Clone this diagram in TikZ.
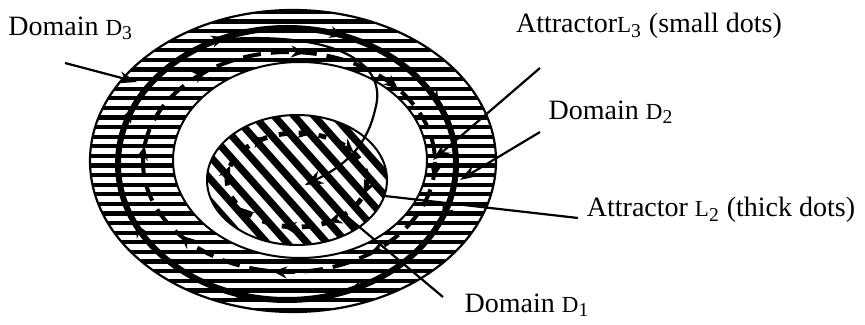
\documentclass[tikz,border=0pt]{standalone}
\usepackage{fontspec}
\setmainfont{Liberation Serif}
\usetikzlibrary{arrows.meta}
\usetikzlibrary{decorations.markings}

\newcommand{\varname}[2]{{\fontsize{11.5}{13}\selectfont #1}\textsubscript{#2}}

\begin{document}
\begin{tikzpicture}[
      x=0.5pt, y=-0.5pt, >=Stealth,
      lab/.style={font=\fontsize{14}{16}\selectfont, inner sep=0pt},
      hatch/.style={line width=2.1pt},
      slant/.style={line width=3.6pt},
      ptr/.style={line width=1.1pt, -{Stealth[length=9pt, width=6pt]}},
      tick/.style={decoration={markings,
        mark=between positions #1 and 1 step 0.125 with {\arrow{Stealth[length=7pt, width=6pt]}}},
        postaction={decorate}}]
      \useasboundingbox (0,0) rectangle (865,325);
      % outer annulus D3 with horizontal hatching
      \begin{scope}
        \clip (293,161) ellipse [x radius=203, y radius=151];
        \foreach \yy in {12,21.6,...,316} \draw[hatch] (80,\yy) -- (510,\yy);
      \end{scope}
      \draw[line width=1.1pt] (293,161) ellipse [x radius=203, y radius=151];
      % white hole D2
      \fill[white] (300,160) ellipse [x radius=127, y radius=98];
      \draw[line width=1pt] (300,160) ellipse [x radius=127, y radius=98];
      % inner domain D1 with slanted hatching
      \begin{scope}
        \clip (297,180) ellipse [x radius=90, y radius=65];
        \foreach \xx in {40,60,...,420} \draw[slant] (\xx,100) -- (\xx+160,280);
      \end{scope}
      \draw[line width=1pt] (297,180) ellipse [x radius=90, y radius=65];
      % attractors: thick ring, dashed ring, small ring of thick dots
      \draw[line width=3pt, tick=0.06] (287,164) ellipse [x radius=169, y radius=136];
      \draw[line width=2pt, dash pattern=on 9pt off 5pt, tick=0.02] (289,162) ellipse [x radius=146, y radius=110];
      \draw[line width=2.4pt, dash pattern=on 4pt off 6pt, tick=0.04] (297,180) ellipse [x radius=70, y radius=47];
      % trajectory falling into D1
      \coordinate (ts) at (213,40);
      \coordinate (te) at (305,185);
      \draw[line width=1.1pt, -{Stealth[length=9pt, width=7pt]}]
        (ts) .. controls (330,30) and (390,60) .. (375,110)
        .. controls (366,150) and (340,168) .. (te);
      % labels
      \node[lab, anchor=west] (d3) at (8,28) {Domain \varname{D}{3}};
      \node[lab] (l3) at (649,26) {Attractor\varname{L}{3} (small dots)};
      \node[lab] (d2) at (611,112) {Domain \varname{D}{2}};
      \node[lab] (l2) at (721,210) {Attractor \varname{L}{2} (thick dots)};
      \node[lab] (d1) at (527,305) {Domain \varname{D}{1}};
      % pointers
      \coordinate (d3s) at (65,63);   \coordinate (d3e) at (137,82);
      \coordinate (l3s) at (540,68);  \coordinate (l3e) at (433,160);
      \coordinate (d2s) at (540,132); \coordinate (d2e) at (460,180);
      \coordinate (l2s) at (578,218); \coordinate (l2e) at (385,196);
      \coordinate (d1s) at (443,297); \coordinate (d1e) at (345,215);
      \draw[ptr] (d3s) -- (d3e);
      \draw[ptr] (l3s) -- (l3e);
      \draw[ptr] (d2s) -- (d2e);
      \draw[line width=1.1pt] (l2s) -- (l2e);
      \draw[line width=1.1pt] (d1s) -- (d1e);
    \end{tikzpicture}
\end{document}
